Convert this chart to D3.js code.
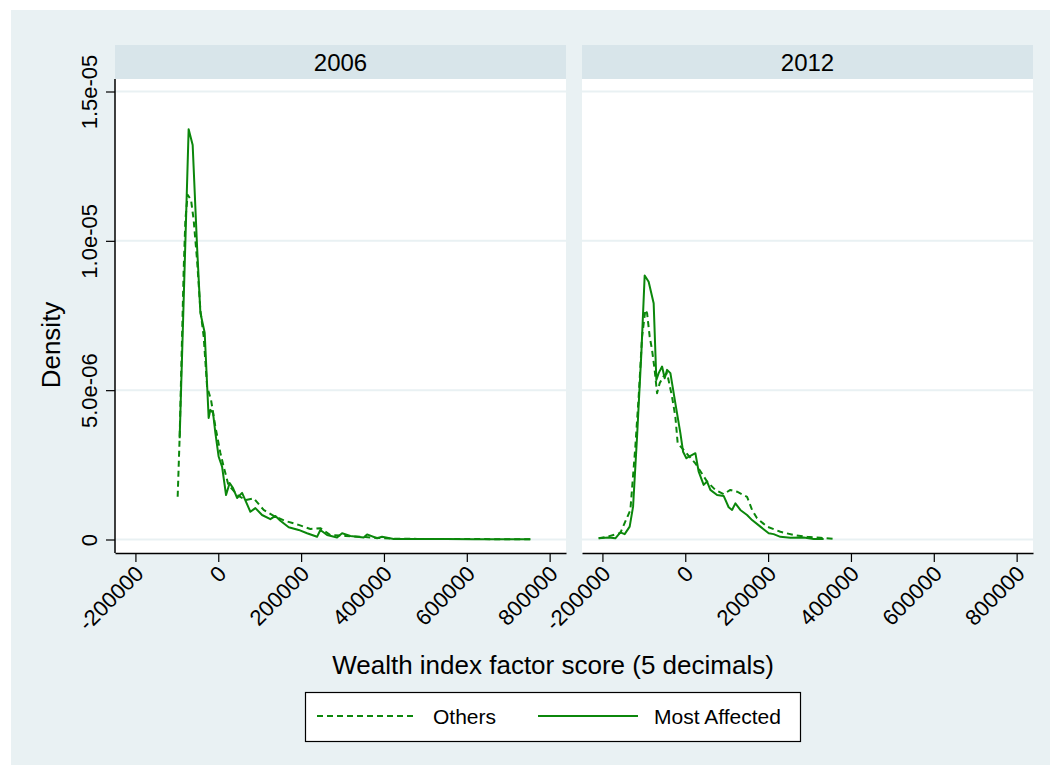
<!DOCTYPE html>
<html>
<head>
<meta charset="utf-8">
<script src="https://cdn.jsdelivr.net/npm/d3@7"></script>
<style>
  body { margin: 0; background: #fff; }
  svg { font-family: Helvetica, "Liberation Sans", Arial, sans-serif; }
</style>
</head>
<body>
<svg id="chart" width="1054" height="769"></svg>
<script>
// panels (by survey year) and legend entries
var years = ["2006", "2012"];
var seriesNames = ["Others", "Most Affected"];
var xTicks = [-200000, 0, 200000, 400000, 600000, 800000];
var yTicks = [0, 5e-6, 1e-5, 1.5e-5];

// kernel density, 2006, others (dashed)
var others2006X = [-98000, -93200, -83500, -79400, -73900, -65700, -59400, -51200, -43200, -35200, -27000, -17400, -7000, 5100, 13000, 24400, 46100, 65400, 85500, 109600, 133800, 162000, 194100, 222400, 246500, 270600, 306800, 355000, 415400, 480000, 550000, 620000, 690000, 753500];
var others2006Y = [1.43e-6, 3.44e-6, 9.03e-6, 10.7e-6, 11.54e-6, 11.37e-6, 10.7e-6, 9.36e-6, 7.69e-6, 6.79e-6, 5.12e-6, 4.67e-6, 3.78e-6, 2.9e-6, 2.44e-6, 1.83e-6, 1.49e-6, 1.32e-6, 1.38e-6, 0.99e-6, 0.79e-6, 0.62e-6, 0.49e-6, 0.35e-6, 0.38e-6, 0.15e-6, 0.12e-6, 0.08e-6, 0.03e-6, 0.02e-6, 0.02e-6, 0.015e-6, 0.01e-6, 0.01e-6];

// kernel density, 2006, most affected (solid)
var affected2006X = [-93200, -71500, -61800, -51200, -43200, -32800, -23200, -19100, -12600, -7000, 1000, 9200, 18800, 27500, 35700, 45400, 57500, 77500, 89600, 105700, 125800, 137900, 150000, 170000, 194100, 214400, 238500, 246500, 262700, 286800, 298900, 318900, 351000, 359200, 383400, 395400, 423500, 487900, 550000, 620000, 690000, 753500];
var affected2006Y = [3.39e-6, 13.74e-6, 13.21e-6, 9.81e-6, 7.59e-6, 6.92e-6, 4.07e-6, 4.34e-6, 4.24e-6, 3.57e-6, 2.77e-6, 2.44e-6, 1.49e-6, 1.89e-6, 1.72e-6, 1.39e-6, 1.56e-6, 0.93e-6, 1.05e-6, 0.82e-6, 0.68e-6, 0.79e-6, 0.63e-6, 0.41e-6, 0.32e-6, 0.21e-6, 0.09e-6, 0.32e-6, 0.15e-6, 0.07e-6, 0.21e-6, 0.12e-6, 0.07e-6, 0.17e-6, 0.04e-6, 0.09e-6, 0.02e-6, 0.02e-6, 0.015e-6, 0.01e-6, 0.01e-6, 0.01e-6];

// kernel density, 2012, others (dashed)
var others2012X = [-209100, -188800, -156700, -132500, -120500, -112500, -104300, -96300, -92200, -85900, -80200, -73900, -68100, -61800, -53600, -43900, -31900, -23900, -18300, -3900, 24400, 52600, 72700, 92700, 108900, 125100, 149200, 161300, 173300, 197500, 229600, 261700, 294100, 326200, 358300];
var others2012Y = [0.04e-6, 0.09e-6, 0.22e-6, 0.99e-6, 3.11e-6, 4.78e-6, 6.79e-6, 7.69e-6, 7.58e-6, 6.79e-6, 6.35e-6, 5.68e-6, 4.9e-6, 5.23e-6, 5.45e-6, 5.57e-6, 4.78e-6, 4.11e-6, 3.22e-6, 3.0e-6, 2.55e-6, 1.94e-6, 1.66e-6, 1.52e-6, 1.66e-6, 1.6e-6, 1.43e-6, 0.99e-6, 0.71e-6, 0.43e-6, 0.26e-6, 0.15e-6, 0.09e-6, 0.06e-6, 0.02e-6];

// kernel density, 2012, most affected (solid)
var affected2012X = [-209100, -185000, -168800, -156700, -146300, -134200, -126000, -116400, -106000, -98000, -88400, -76300, -69800, -64200, -56000, -49700, -43900, -35900, -23900, -11800, -5300, 2700, 8200, 24400, 32400, 44400, 52600, 60600, 76800, 92700, 104800, 113000, 121000, 133000, 149200, 161300, 181300, 201400, 213400, 229600, 253700, 285900, 310000, 334100];
var affected2012Y = [0.04e-6, 0.07e-6, 0.04e-6, 0.24e-6, 0.18e-6, 0.43e-6, 1.1e-6, 3.44e-6, 6.24e-6, 8.84e-6, 8.63e-6, 7.91e-6, 5.34e-6, 5.57e-6, 5.79e-6, 5.4e-6, 5.68e-6, 5.57e-6, 4.56e-6, 3.56e-6, 2.94e-6, 2.72e-6, 2.77e-6, 2.89e-6, 2.27e-6, 1.83e-6, 1.94e-6, 1.66e-6, 1.49e-6, 1.46e-6, 1.08e-6, 0.99e-6, 1.21e-6, 0.99e-6, 0.82e-6, 0.65e-6, 0.43e-6, 0.21e-6, 0.18e-6, 0.09e-6, 0.06e-6, 0.07e-6, 0.02e-6, 0.02e-6];

var panelSeries = [
  [{x: others2006X, y: others2006Y, dash: "6,4"}, {x: affected2006X, y: affected2006Y, dash: null}],
  [{x: others2012X, y: others2012Y, dash: "6,4"}, {x: affected2012X, y: affected2012Y, dash: null}]
];

var green = "#0b870b",
    bg = "#e9f1f3",
    stripFill = "#d8e5ea";

var svg = d3.select("#chart");

// outer graph region
svg.append("rect")
  .attr("x", 11).attr("y", 10)
  .attr("width", 1039).attr("height", 755)
  .attr("fill", bg);

var panelW = 451,
    panelLeft = [115, 582],
    stripTop = 45, stripH = 34,
    plotTop = 79, plotBottom = 553;

var x = d3.scaleLinear().domain([-249300, 839500]).range([0, panelW]);
var y = d3.scaleLinear().domain([0, 1.5e-5]).range([plotBottom - 13.5, plotTop + 12.5]);

// plain hyphen for negatives, like the original
function fmtX(v) { return String(v); }
function fmtY(v) {
  if (v === 0) return "0";
  return d3.format(".1e")(v).replace(/e[-\u2212](\d)$/, "e-0$1");
}

years.forEach(function (yr, i) {
  var g = svg.append("g").attr("transform", "translate(" + panelLeft[i] + ",0)");

  // strip with the year
  g.append("rect")
    .attr("x", 0).attr("y", stripTop)
    .attr("width", panelW).attr("height", stripH)
    .attr("fill", stripFill);
  g.append("text")
    .attr("x", panelW / 2).attr("y", stripTop + stripH / 2)
    .attr("dy", "0.36em")
    .attr("text-anchor", "middle")
    .attr("font-size", 24)
    .text(yr);

  // plot area
  g.append("rect")
    .attr("x", 0).attr("y", plotTop)
    .attr("width", panelW).attr("height", plotBottom - plotTop)
    .attr("fill", "#fff");

  // grid lines
  g.append("g").selectAll("line")
    .data(yTicks)
    .enter().append("line")
    .attr("x1", 0).attr("x2", panelW)
    .attr("y1", function (d) { return y(d); })
    .attr("y2", function (d) { return y(d); })
    .attr("stroke", bg)
    .attr("stroke-width", 2);

  // density curves
  var clipId = "clip" + i;
  g.append("clipPath").attr("id", clipId)
    .append("rect")
    .attr("x", 0).attr("y", plotTop)
    .attr("width", panelW).attr("height", plotBottom - plotTop);

  var line = d3.line()
    .x(function (d) { return x(d[0]); })
    .y(function (d) { return y(d[1]); });

  panelSeries[i].forEach(function (s) {
    var pts = s.x.map(function (v, k) { return [v, s.y[k]]; });
    g.append("path")
      .attr("clip-path", "url(#" + clipId + ")")
      .attr("d", line(pts))
      .attr("fill", "none")
      .attr("stroke", green)
      .attr("stroke-width", 2)
      .attr("stroke-linejoin", "round")
      .attr("stroke-dasharray", s.dash);
  });

  // x axis
  var xAxis = g.append("g")
    .attr("transform", "translate(0," + plotBottom + ")")
    .call(d3.axisBottom(x).tickValues(xTicks).tickFormat(fmtX).tickSize(9).tickSizeOuter(0));
  xAxis.select(".domain").attr("stroke", "#000").attr("stroke-width", 1.5);
  xAxis.selectAll(".tick line").attr("stroke", "#000").attr("stroke-width", 1.2);
  xAxis.selectAll(".tick text")
    .attr("font-size", 22)
    .attr("fill", "#000")
    .attr("text-anchor", "end")
    .attr("x", 0).attr("y", 0).attr("dy", 0)
    .attr("transform", "translate(9,22) rotate(-45)");

  // y axis only on the left panel
  if (i === 0) {
    g.append("line")
      .attr("x1", 0).attr("x2", 0)
      .attr("y1", plotTop).attr("y2", plotBottom)
      .attr("stroke", "#000").attr("stroke-width", 1.5);
    var yAxis = g.append("g")
      .call(d3.axisLeft(y).tickValues(yTicks).tickFormat(fmtY).tickSize(9).tickSizeOuter(0));
    yAxis.select(".domain").remove();
    yAxis.selectAll(".tick line").attr("stroke", "#000").attr("stroke-width", 1.2);
    yAxis.selectAll(".tick text")
      .attr("font-size", 22)
      .attr("fill", "#000")
      .attr("text-anchor", "middle")
      .attr("x", 0).attr("y", 0).attr("dy", 0)
      .attr("transform", "translate(-18,0) rotate(-90)");
  }
});

// axis titles
svg.append("text")
  .attr("transform", "translate(60,345) rotate(-90)")
  .attr("text-anchor", "middle")
  .attr("font-size", 26)
  .text("Density");

svg.append("text")
  .attr("x", 553).attr("y", 674)
  .attr("text-anchor", "middle")
  .attr("font-size", 26)
  .text("Wealth index factor score (5 decimals)");

// legend
var leg = svg.append("g");
leg.append("rect")
  .attr("x", 305.5).attr("y", 692.5)
  .attr("width", 495).attr("height", 49)
  .attr("fill", "#fff")
  .attr("stroke", "#000")
  .attr("stroke-width", 1.2);

var legItems = [
  {name: seriesNames[0], dash: "6,4", x0: 317, tx: 433},
  {name: seriesNames[1], dash: null, x0: 538, tx: 654}
];
legItems.forEach(function (d) {
  leg.append("line")
    .attr("x1", d.x0).attr("x2", d.x0 + 100)
    .attr("y1", 716).attr("y2", 716)
    .attr("stroke", green)
    .attr("stroke-width", 2)
    .attr("stroke-dasharray", d.dash);
  leg.append("text")
    .attr("x", d.tx).attr("y", 716)
    .attr("dy", "0.36em")
    .attr("font-size", 21)
    .text(d.name);
});
</script>
</body>
</html>
